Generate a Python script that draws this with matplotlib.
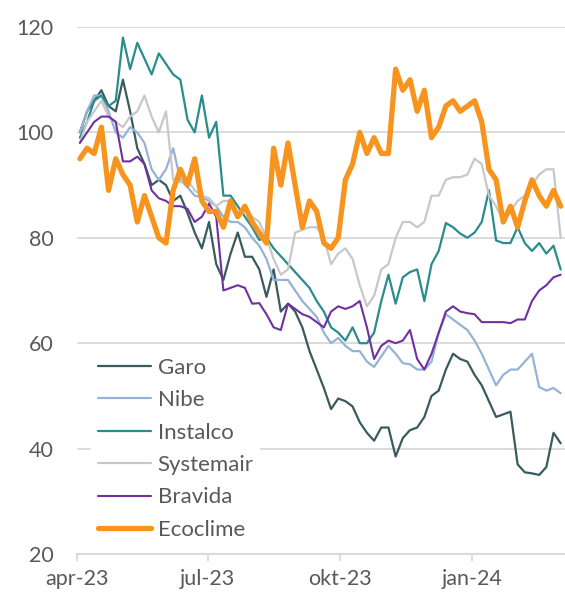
import matplotlib
matplotlib.use("Agg")
import matplotlib.pyplot as plt
import pandas as pd

dates = pd.date_range("2023-04-03", periods=68, freq="5D")

garo = [100, 104, 106, 108, 105, 104, 110, 104, 97, 94, 90, 91, 90, 87, 88, 84.7, 81, 78, 83, 75,
        72, 77, 81, 76.4, 76.4, 74, 68.8, 74, 66, 67.5, 66, 63, 58.5, 55, 51.5, 47.5, 49.5, 49, 48, 45,
        43, 41.5, 44, 44, 38.5, 42, 43.5, 44, 46, 50, 51, 55, 58, 57, 56.5, 54, 52, 49, 46, 46.5,
        47, 37, 35.5, 35.3, 35, 36.5, 43, 41]
nibe = [100, 104, 107, 107, 104, 100, 99, 101, 100, 98, 93, 91, 93, 97, 91, 89.6, 88, 87.7, 87, 86,
        84, 83, 83, 82, 80, 78.5, 76, 72, 72, 72, 70, 68, 66.5, 65, 62, 60, 61, 59.5, 58.5, 58.5,
        56.5, 55.5, 57.5, 59.5, 58, 56.2, 56, 55, 55, 56.5, 62, 65.5, 64.5, 63.5, 62.5, 60.5, 58, 55, 52, 54,
        55, 55, 56.5, 58, 51.7, 51, 51.5, 50.5]
instalco = [99, 102, 106, 107, 105, 106, 118, 112, 117, 114, 111, 115, 113, 111, 110, 102.4, 100, 107, 99, 102,
            88, 88, 86, 84, 82, 79.6, 80, 78, 76.5, 75, 73.5, 72, 70.5, 68, 66, 63, 62, 60.5, 63, 60,
            60, 62, 68, 73, 67.5, 72.5, 73.5, 74, 68, 75, 77.5, 82.8, 82, 80.8, 80, 81, 83, 89, 79.5, 79,
            79, 82, 79, 77.5, 79, 77, 78.5, 74]
systemair = [98, 102, 104, 106, 103, 102, 101, 103, 104, 107, 103, 100, 104, 91, 90.5, 91, 89, 88, 87.5, 86,
             87, 87, 84, 85, 84, 83, 80, 76, 73, 74, 81, 81.5, 82, 82, 80, 75, 77, 78, 76, 71,
             67, 69, 74, 75, 80, 83, 83, 82, 83, 88, 88, 91, 91.5, 91.5, 92, 95, 94, 88, 86, 83,
             85, 87, 88, 90, 92, 93, 93, 80]
bravida = [98, 100, 102, 103, 103, 102, 94.5, 94.5, 95.4, 94, 89, 87.5, 87, 86, 86, 85.5, 83, 84, 86.5, 84,
           70, 70.5, 71, 70.5, 67.5, 67.6, 65.5, 63, 62.5, 67.5, 66.5, 65.5, 65, 64, 63, 66, 67, 66.5, 67, 68,
           63, 57, 59.5, 60.5, 60, 60.5, 62.5, 57, 55, 58, 62, 66, 67, 66, 65.7, 65.5, 64, 64, 64, 64,
           63.8, 64.5, 64.5, 68, 70, 71, 72.5, 73]
ecoclime = [95, 97, 96, 101, 89, 95, 92, 90, 83, 88, 84, 80, 79, 89, 93, 90, 95, 87, 85, 85,
            82, 87, 84, 86, 83, 81, 79, 97, 90, 98, 90, 82, 87, 85, 79, 78, 80, 91, 94, 100,
            96, 99, 96, 96, 112, 108, 110, 104, 108, 99, 101, 105, 106, 104, 105, 106, 102, 93, 91, 83,
            86, 82, 87, 91, 88, 86, 89, 86]

series_names = ["Garo", "Nibe", "Instalco", "Systemair", "Bravida", "Ecoclime"]
series_values = [garo, nibe, instalco, systemair, bravida, ecoclime]
colors = ["#3a5b5e", "#95b3d7", "#2a8c8c", "#c8c8c8", "#7030a0", "#f7941d"]
widths = [1.6, 1.6, 1.6, 1.6, 1.5, 3.8]

tick_dates = pd.to_datetime(["2023-04-01", "2023-07-01", "2023-10-01", "2024-01-01"])
tick_labels = ["apr-23", "jul-23", "okt-23", "jan-24"]
y_ticks = [20, 40, 60, 80, 100, 120]

plt.rcParams["font.family"] = ["Lato", "DejaVu Sans"]
fig = plt.figure(figsize=(5.65, 6.04), dpi=100)
ax = fig.add_axes([77 / 565, 1 - 554 / 604, 1 - 77 / 565, (554 - 27) / 604])

for name, vals, c, w in zip(series_names, series_values, colors, widths):
    ax.plot(dates, vals, color=c, lw=w, label=name, clip_on=False,
            solid_joinstyle="round", solid_capstyle="round")

ax.set_ylim(20, 120)
ax.set_xlim(pd.Timestamp("2023-04-01"), pd.Timestamp("2024-03-06"))
ax.set_yticks(y_ticks)
ax.set_xticks(tick_dates)
ax.set_xticklabels(tick_labels)
ax.grid(axis="y", color="#d9d9d9", lw=1.3)
ax.set_axisbelow(True)
for s in ["top", "right", "left"]:
    ax.spines[s].set_visible(False)
ax.spines["bottom"].set_color("#d9d9d9")
ax.spines["bottom"].set_linewidth(1.5)
ax.tick_params(axis="y", length=0, pad=17, labelsize=15.5, labelcolor="#595959")
ax.tick_params(axis="x", length=5, width=1.3, color="#d9d9d9", pad=6, labelsize=15.5, labelcolor="#595959")

leg = ax.legend(loc="upper left", bbox_to_anchor=(91 / 565, 1 - 351 / 604), bbox_transform=fig.transFigure,
                frameon=True, facecolor="white", edgecolor="none", framealpha=1, fancybox=False,
                fontsize=16, handlelength=2.4, handletextpad=0.3, labelspacing=0.56,
                borderpad=0.3, borderaxespad=0)
for t in leg.get_texts():
    t.set_color("#595959")

fig.savefig("out.png", dpi=100)
